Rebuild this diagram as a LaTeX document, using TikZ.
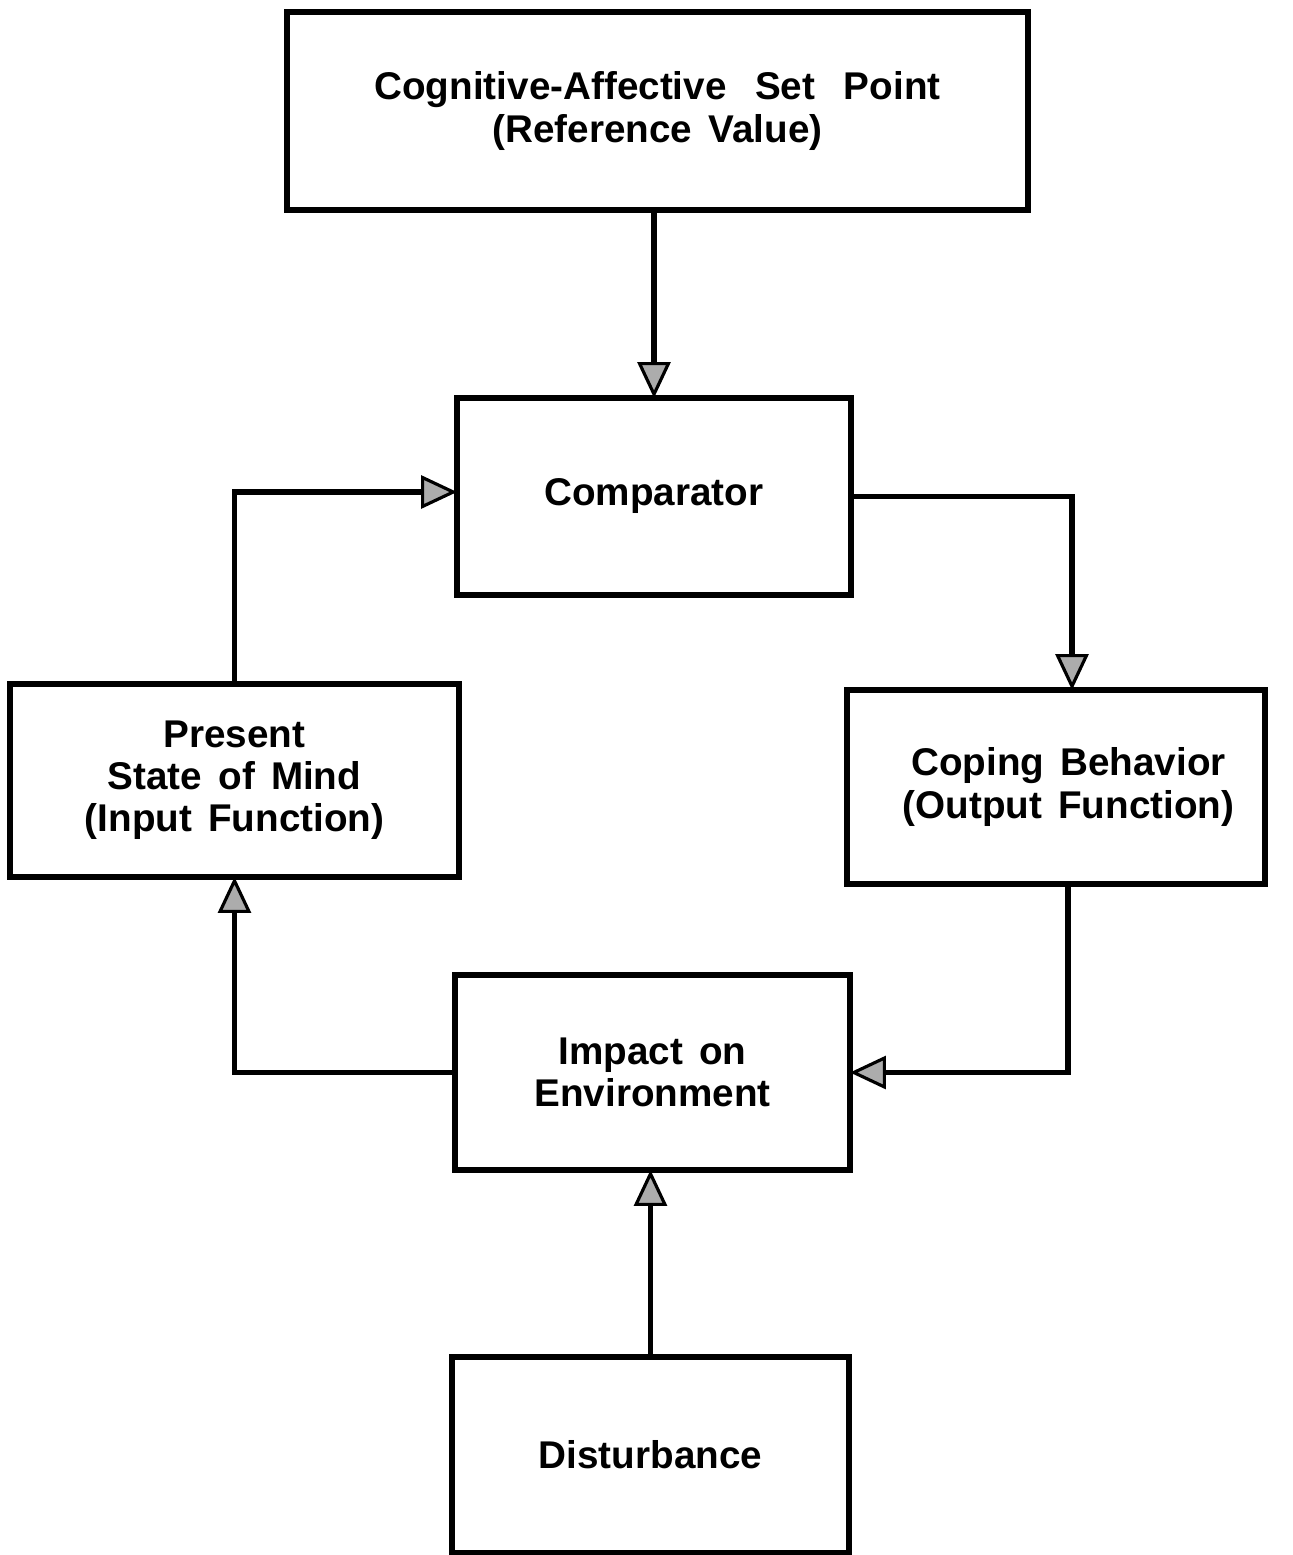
\documentclass[tikz,border=0pt]{standalone}
\usepackage{fontspec}
\setmainfont{Liberation Sans}[WordSpace=1.5]
\usetikzlibrary{arrows.meta}
\begin{document}
\begin{tikzpicture}[x=0.02cm,y=-0.02cm,
  box/.style={draw, line width=3pt, rectangle, align=center, inner sep=0pt, outer sep=0pt,
    font=\fontsize{22}{24}\selectfont\bfseries},
  arr/.style={line width=3pt, -{Triangle[length=0.72cm,width=0.66cm,fill=gray!65,line width=1.8pt]}}]
\useasboundingbox (0,0) rectangle (1293,1555);
\node[box, minimum width=14.82cm, minimum height=3.96cm] (top) at (657.5,111)
  {Cognitive-Affective\hspace{0.25cm} Set\hspace{0.25cm} Point\\(Reference Value)};
\node[box, minimum width=7.88cm, minimum height=3.94cm] (comp) at (654,496.5) {Comparator};
\node[box, minimum width=8.98cm, minimum height=3.86cm] (present) at (234.5,780.5)
  {Present\\State of Mind\\(Input Function)};
\node[box, minimum width=8.36cm, minimum height=3.88cm] (coping) at (1056,787)
  {\hspace*{0.5cm}Coping Behavior\\\hspace*{0.5cm}(Output Function)};
\node[box, minimum width=7.90cm, minimum height=3.90cm] (impact) at (652.5,1072.5)
  {Impact on\\Environment};
\node[box, minimum width=7.94cm, minimum height=3.92cm] (dist) at (650.5,1455) {Disturbance};
\draw[arr] (comp.north |- top.south) -- (comp.north);
\draw[arr] (comp.east) -| ([xshift=0.32cm]coping.north);
\draw[arr] ([xshift=0.24cm]coping.south) |- (impact.east);
\draw[arr] (impact.west) -| (present.south);
\draw[arr] (present.north) |- ([yshift=0.09cm]comp.west);
\draw[arr] (dist.north) -- (dist.north |- impact.south);
\end{tikzpicture}
\end{document}
